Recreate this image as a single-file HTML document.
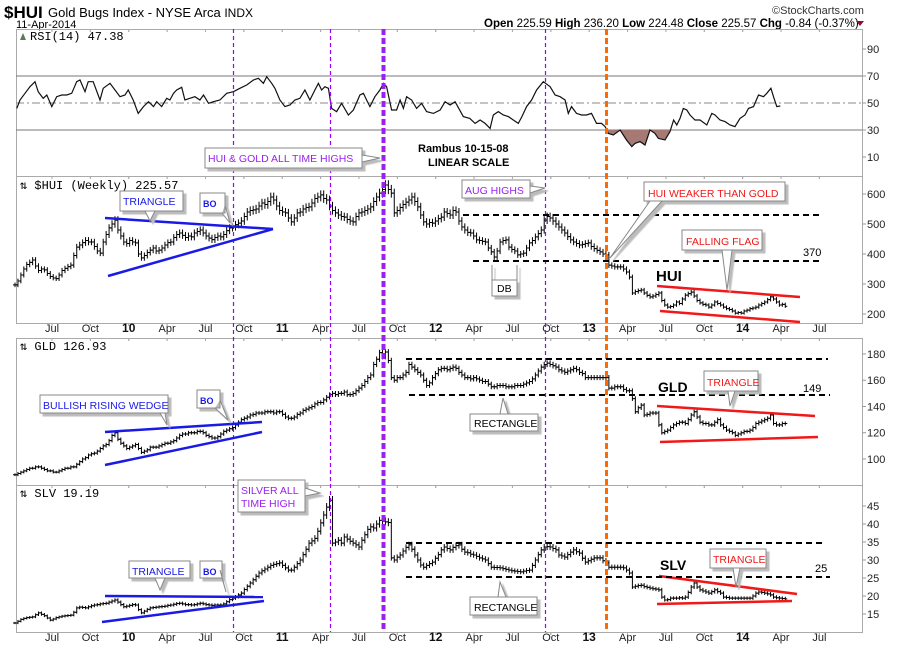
<!DOCTYPE html>
<html><head><meta charset="utf-8">
<style>
html,body{margin:0;padding:0;background:#fff;}
svg{display:block;font-family:"Liberation Sans",sans-serif;}
.ax{font-size:11px;fill:#222;}
.yr{font-size:12px;font-weight:bold;fill:#111;}
.mo{font-size:11px;fill:#222;}
</style></head>
<body>
<svg id="chart" width="900" height="650" viewBox="0 0 900 650">
<rect width="900" height="650" fill="#fff"/>
<text x="4" y="18" font-size="17" font-weight="bold">$HUI</text>
<text x="48" y="17" font-size="13">Gold Bugs Index - NYSE Arca <tspan font-size="12">INDX</tspan></text>
<text x="16" y="28" font-size="11">11-Apr-2014</text>
<text x="772" y="14" font-size="11" fill="#333">©StockCharts.com</text>
<text x="484" y="27" font-size="11.5"><tspan font-weight="bold">Open</tspan> 225.59 <tspan font-weight="bold">High</tspan> 236.20 <tspan font-weight="bold">Low</tspan> 224.48 <tspan font-weight="bold">Close</tspan> 225.57 <tspan font-weight="bold">Chg</tspan> -0.84 (-0.37%)</text>
<polygon points="856,21 864,21 860,26" fill="#8b1030"/>

<g id="frames" fill="none" stroke="#aaa" stroke-width="1">
<rect x="16.5" y="29.5" width="846" height="147"/>
<rect x="16.5" y="176.5" width="846" height="147"/>
<rect x="16.5" y="338.5" width="846" height="147"/>
<rect x="16.5" y="485.5" width="846" height="147"/>
</g>
<g id="axes"></g>
<g id="rsiG"></g>
<g id="bars"></g>
<g id="markers"></g>
<g id="ann"></g>
</svg>
<script>
const weeksHUI=[297,310,330,350,365,372,380,360,345,350,
347,335,325,320,318,330,345,352,358,363,
395,423,430,438,445,440,440,425,410,403,
440,465,487,500,513,480,460,440,435,445,
440,437,400,387,395,405,413,420,410,413,
420,430,438,440,455,465,470,462,455,460,
457,470,475,480,470,460,453,448,455,460,
457,465,478,487,490,498,503,510,525,540,
545,547,550,560,570,565,575,590,580,560,
545,540,537,520,507,520,537,540,550,555,
557,570,585,590,597,585,580,560,545,537,
530,525,523,515,510,507,525,537,540,545,
550,557,575,590,603,615,630,615,603,537,
545,555,565,573,580,590,575,557,530,507,
500,505,503,510,518,523,540,535,530,545,
540,510,490,480,472,470,460,447,445,442,
440,420,407,390,410,440,445,447,423,415,
410,397,400,403,420,437,445,457,468,480,
513,525,520,510,500,490,480,470,458,447,
440,435,430,432,435,437,425,418,412,407,
400,397,363,360,357,357,357,350,340,323,
270,275,278,280,270,262,257,260,265,270,
245,230,223,225,230,240,235,250,263,268,
273,260,245,237,232,230,223,230,240,235,
230,223,218,215,210,203,205,203,210,213,
218,220,223,230,235,240,248,257,250,240,
230,232,226];
const weeksGLD=[88,89,90,91,92,93,93,94,94,93,
92,91,91,90,90,91,92,93,93,94,
94,96,98,100,101,103,104,104.5,106,108,
110,111,114,118,120,115,112,110,108,109,
110,111,108,105,106,107,109,109,109,110,
111,112,112,113,114,116,118,119,119,120,
120,120,121,121,120,118,117,116,116,117,
119,121,122,123,124,126,128,130,131,132,
133.5,134,135,135,135,136,136,136,135,136,
136,134,132,131,131,132,134,135,137,138,
139,140,142,143,143,145,147,149,150,149,
150,150,151,149,149,150,152,154,156,159,
162,164,172,176,181,178,181.5,175,162,160,
162,162,164,166,172,170,168,166,164,160,
156,158,162,165,168,169,169,168,169,170,
169,166,164,162,162,161,162,161,160,159,
159,157,155,155,156,156,156,155,155,155,
156,156,156,157,158,159,161,164,167,170,
172,173,172,171,170,168,167,166,167,168,
169,168,166,165,162,162,162,162,162,162,
162,162,154,154,155,155,155,153,152,152,
146,136,139,141,133.5,134,135,135,135,126,
120,121,122,124,126,127,128,128,127,130,
133.5,136,132,128,127,127,126,126,128,130,
126,124,122,121,120,118,119,120,121,121,
122,124,127,128,129,130,131,133.5,127,126,
126,127,127];
const weeksSLV=[12.5,13,13.5,13.8,14,14.1,14.2,14.8,15.3,14.9,
14.5,13.9,13.3,13.6,14,14.2,14.4,14.5,14.6,14.7,
15.5,16.7,16.9,16.8,16.7,17,17.3,17.5,17.6,17.8,
17.9,18,18.3,18.6,18.9,18.3,17.6,17,17.2,17.4,
17.6,17.5,16.2,15.3,15.8,16.3,16.7,16.8,16.9,17,
17.1,17.2,17.4,17.5,17.7,17.9,18,17.8,17.6,17.6,
17.5,17.6,17.8,18,17.8,17.6,17.5,17.4,17.5,17.5,
17.5,17.8,18.4,19,19.4,19.8,20.3,20.8,21.8,22.7,
23.6,24.5,25.5,26.4,27,27.5,28,28.5,28.8,29,
29.2,28.5,27.8,27.2,27.2,28,29,30,31.5,33,
34.7,35.3,36,38,40.3,42.5,44.7,46.6,34.7,35,
35.5,34.7,36.4,35.8,35.2,34.7,34.2,33.6,35.5,37,
38.5,39.2,38.9,40,41,40.8,40.6,40.4,30.6,30,
30.8,31.4,32.5,33.5,34.2,33,31.4,30,28.6,28,
28.5,29,29.4,30.5,31.5,32.8,33.6,33.2,32.8,33.5,
34,34.2,33,32.2,32,31.6,31.4,31,30.6,30.3,
30,29,28,27.9,27.9,27.8,27.6,27.4,27.2,27,
26.9,26.8,26.7,26.9,27.1,27.2,28.5,30,31.5,32.8,
33.6,33.7,33.6,33.2,32.8,31.4,31.1,30.8,31.5,32.2,
32.8,32.3,31.9,30.5,29.4,29.8,30.2,30.6,30.6,30.6,
29.8,29.2,28,28,28,28,28,27.8,27.2,26.4,
22.5,22.7,22.9,23,22.6,22.4,22.2,22,21.9,21.7,
19.7,18.9,19,19.4,19.4,19.4,19.5,19.4,19.7,21,
22.5,23.6,22.5,21.7,21.4,21.1,20.8,21.2,21.7,21.2,
20.8,19.7,19.6,19.4,19.4,19.4,19.4,19.4,19.4,19.4,
19.4,20,20.8,21.1,21,20.8,20.6,20.3,19.7,19.5,
19.4,19.3,19.2];
const rsiWeek=[0.6,1.7,3.4,5.1,6.8,7.9,9.6,10.8,12.5,14.2,15.9,17.6,19.3,21.0,22.1,23.8,24.9,26.6,28.9,30.0,32.3,34.0,35.7,37.4,38.5,40.2,41.9,43.7,45.4,47.1,48.2,49.9,51.6,52.7,53.9,55.0,56.7,57.8,59.5,61.2,62.9,64.1,65.8,67.5,69.7,72.0,74.3,76.5,78.8,81.1,82.8,84.5,85.6,87.3,88.4,90.1,91.8,93.5,95.2,96.9,98.6,100.3,102.0,103.2,104.3,105.4,106.6,107.7,109.4,111.1,113.4,115.1,117.3,118.5,119.6,120.7,122.4,124.1,125.3,126.4,128.1,129.8,131.0,132.1,133.2,134.9,136.6,138.3,140.0,142.3,144.6,146.3,148.0,149.7,152.5,154.7,156.5,158.2,159.9,161.6,162.7,164.4,166.1,167.8,169.5,171.2,172.4,174.0,175.7,177.4,179.7,182.0,183.7,185.4,187.1,188.2,189.3,191.0,192.7,194.4,196.1,197.8,199.5,200.7,201.8,203.5,205.8,208.0,209.8,210.9,212.6,214.3,216.0,217.7,218.8,221.1,222.8,224.0,225.1,226.2,227.3,228.5,229.6,231.3,233.0,235.3,237.0,238.1,239.8,241.5,243.2,244.9,246.6,248.3,249.5,251.2,252.9,254.6,255.7,257.1,258.0,259.1,260.3];
const rsiValue=[46.0,52.2,57.2,62.1,65.8,58.4,53.5,55.9,47.3,54.7,55.9,55.9,57.2,65.8,67.0,58.4,65.8,65.8,52.2,60.9,64.6,59.6,54.7,55.9,59.6,52.2,42.3,47.3,51.0,47.3,51.0,47.3,53.5,52.2,57.2,59.6,61.6,52.2,53.5,54.7,52.2,55.9,49.8,51.0,52.2,57.2,58.4,60.9,63.3,67.0,68.3,64.6,69.5,64.6,60.9,52.2,47.3,48.5,52.2,53.5,59.6,52.2,59.6,64.6,59.6,62.1,60.9,46.0,43.6,49.8,41.1,44.8,55.9,57.2,52.2,47.3,54.7,59.6,64.6,62.1,44.8,44.8,52.2,46.0,54.7,52.2,46.0,49.8,43.6,42.3,44.8,51.0,48.5,51.0,39.9,38.6,34.9,37.4,34.9,31.2,41.1,43.6,41.1,39.9,37.4,34.9,39.9,47.3,52.2,59.6,65.8,62.1,55.9,54.7,52.2,42.3,47.3,42.3,41.1,41.1,42.3,34.9,34.9,32.5,27.5,26.3,30.0,22.6,17.7,20.1,21.4,18.9,30.0,27.5,23.8,22.6,28.8,37.4,33.7,38.6,46.0,44.8,41.1,37.4,37.4,33.7,42.3,41.1,37.4,36.2,33.7,32.5,38.6,41.1,46.0,47.3,55.9,54.7,57.2,60.9,54.7,47.3,47.8];
const rsiTicks=[90,70,50,30,10];
const huiTicks=[600,500,400,300,200];
const gldTicks=[180,160,140,120,100];
const slvTicks=[45,40,35,30,25,20,15];
const monthLabels=["Jul","Oct","10","Apr","Jul","Oct","11","Apr","Jul","Oct","12","Apr","Jul","Oct","13","Apr","Jul","Oct","14","Apr","Jul"];
const monthIndex=[6,9,12,15,18,21,24,27,30,33,36,39,42,45,48,51,54,57,60,63,66];
const markerWeeks=[74,107,125,180.3,201];

const NS="http://www.w3.org/2000/svg";
function mk(tag,attrs,parent){const e=document.createElementNS(NS,tag);for(const k in attrs)e.setAttribute(k,attrs[k]);parent.appendChild(e);return e;}
const xW=w=>15+w*2.94;
const xM=m=>52+(m-6)*12.79;
const rsiY=v=>103-(v-50)*1.35;
const huiY=v=>314-(v-200)*0.3;
const gldY=v=>459-(v-100)*1.313;
const slvY=v=>614-(v-15)*3.6;

const axes=document.getElementById('axes');
function yTicks(ticks,f,name){ticks.forEach(t=>{const y=f(t);
 const l=mk('line',{x1:862,x2:866,y1:y,y2:y,stroke:'#999'},axes);
 
 
 const tx=mk('text',{x:867,y:y+4,class:'ax'},axes);tx.textContent=t;
 
 });}
yTicks(rsiTicks,rsiY,'rsi-axis');yTicks(huiTicks,huiY,'hui-axis');yTicks(gldTicks,gldY,'gld-axis');yTicks(slvTicks,slvY,'slv-axis');
[332,641].forEach(yy=>{monthLabels.forEach((lab,i)=>{const x=xM(monthIndex[i]);
 const isYr=/^\d/.test(lab);
 const t=mk('text',{x:x,y:yy,'text-anchor':'middle',class:isYr?'yr':'mo'},axes);t.textContent=lab;
 
 
 [29,176,323,338,485,632].forEach(py=>{mk('line',{x1:x,x2:x,y1:py,y2:py+3,stroke:'#aaa'},axes);});
});});

const rg=document.getElementById('rsiG');
[70,30].forEach(v=>{const l=mk('line',{x1:16,x2:862,y1:rsiY(v),y2:rsiY(v),stroke:'#777'},rg);
 
 });
const mid=mk('line',{x1:16,x2:862,y1:rsiY(50),y2:rsiY(50),stroke:'#888','stroke-dasharray':'8,3,2,3'},rg);


const pts=rsiWeek.map((w,i)=>xW(w).toFixed(1)+','+rsiY(rsiValue[i]).toFixed(1));
mk('clipPath',{id:'below30'},rg);
mk('rect',{x:16,y:rsiY(30),width:846,height:60},document.getElementById('below30'));
const fill=mk('polygon',{points:xW(rsiWeek[0])+','+rsiY(30)+' '+pts.join(' ')+' '+xW(rsiWeek[rsiWeek.length-1])+','+rsiY(30),fill:'#a57a74','clip-path':'url(#below30)'},rg);


const rl=mk('polyline',{points:pts.join(' '),fill:'none',stroke:'#111','stroke-width':1.2},rg);



const bg=document.getElementById('bars');
function drawBars(arr,f,name,spread){
 arr.forEach((c,i)=>{const o=i?arr[i-1]:c;const hi=Math.max(o,c)*(1+spread),lo=Math.min(o,c)*(1-spread);const x=xW(i);
 const p=mk('path',{d:`M${x},${f(hi)}V${f(lo)}M${x-2},${f(o)}H${x}M${x},${f(c)}H${x+2}`,stroke:'#000','stroke-width':1,fill:'none'},bg);
 
 });}
drawBars(weeksHUI,huiY,'hui',0.025);
drawBars(weeksGLD,gldY,'gld',0.012);
drawBars(weeksSLV,slvY,'slv',0.025);

const mg=document.getElementById('markers');
markerWeeks.forEach((w,i)=>{const x=Math.round(xW(w))+0.5;let a;
 if(i===4)a={stroke:'#ff6a00','stroke-width':3,'stroke-dasharray':'6,3'};
 else if(i===2)a={stroke:'#9b1ff0','stroke-width':4,'stroke-dasharray':'6,3'};
 else a={stroke:'#9900ff','stroke-width':1.2,'stroke-dasharray':'4,3'};
 const l=mk('line',Object.assign({x1:x,x2:x,y1:29,y2:632},a),mg);
 
 });
</script>
<svg width="900" height="650" style="position:absolute;left:0;top:0" font-family="Liberation Sans,sans-serif">
<defs><filter id="sh"><feDropShadow dx="3" dy="3" stdDeviation="0.5" flood-color="#bbb"/></filter></defs>
<g font-size="12">
<path d="M20,40 l3,-7 3,7z" fill="#5a7a5a"/>
<text x="30" y="40" font-size="12" font-family="Liberation Mono,monospace">RSI(14) 47.38</text>
<text x="20" y="189" font-size="12" font-family="Liberation Mono,monospace">⇅ $HUI (Weekly) 225.57</text>
<text x="20" y="350" font-size="12" font-family="Liberation Mono,monospace">⇅ GLD 126.93</text>
<text x="20" y="497" font-size="12" font-family="Liberation Mono,monospace">⇅ SLV 19.19</text>
</g>
<g fill="none" stroke-width="2.5">
<line x1="105" y1="218" x2="273" y2="229" stroke="#1a1ae6"/>
<line x1="108" y1="276" x2="273" y2="229" stroke="#1a1ae6"/>
<line x1="105" y1="432" x2="262" y2="422" stroke="#1a1ae6"/>
<line x1="105" y1="465" x2="262" y2="432" stroke="#1a1ae6"/>
<line x1="105" y1="596" x2="263" y2="597" stroke="#1a1ae6"/>
<line x1="102" y1="622" x2="264" y2="601" stroke="#1a1ae6"/>
<line x1="657" y1="286" x2="800" y2="297" stroke="#f01818"/>
<line x1="660" y1="311" x2="800" y2="322" stroke="#f01818"/>
<line x1="657" y1="406" x2="815" y2="416" stroke="#f01818"/>
<line x1="660" y1="442" x2="818" y2="437" stroke="#f01818"/>
<line x1="659" y1="576" x2="797" y2="594" stroke="#f01818"/>
<line x1="657" y1="604" x2="792" y2="601" stroke="#f01818"/>
</g>
<g stroke="#000" stroke-width="2" stroke-dasharray="6,4">
<line x1="463" y1="215" x2="822" y2="215"/>
<line x1="473" y1="261" x2="822" y2="261"/>
<line x1="406" y1="359" x2="828" y2="359"/>
<line x1="409" y1="395" x2="830" y2="395"/>
<line x1="406" y1="543" x2="825" y2="543"/>
<line x1="406" y1="577" x2="830" y2="577"/>
</g>
<g fill="#fff" stroke="#888" filter="url(#sh)">
<path d="M205,148H362V168H205Z M362,155L380,158L362,162"/>
<path d="M120,191H183V211H120Z M145,211L150,221L155,211"/>
<path d="M200,193H225V213H200Z M222,213L230,223L225,205"/>
<path d="M462,180H530V198H462Z M530,186L545,188L530,193"/>
<path d="M644,182H785V201H644Z M650,201L610,258L662,201"/>
<path d="M682,230H762V250H682Z M722,250L727,290L732,250"/>
<path d="M492,280H517V296H492Z M492,280L492,265M517,280L517,265"/>
<path d="M40,395H168V413H40Z M160,413L167,425L165,413"/>
<path d="M197,390H220V408H197Z M215,408L228,420L220,400"/>
<path d="M470,414H538V431H470Z M500,414L503,398L508,414"/>
<path d="M704,371H758V391H704Z M728,391L730,406L735,391"/>
<path d="M238,480H305V512H238Z M305,488L320,493L305,496"/>
<path d="M129,561H190V578H129Z M155,578L160,590L165,578"/>
<path d="M200,561H222V578H200Z M220,570L226,592L222,578"/>
<path d="M470,597H537V615H470Z M498,597L500,582L506,597"/>
<path d="M710,549H766V568H710Z M733,568L736,587L740,568"/>
</g>
<g font-size="10.5" font-weight="normal">
<text x="208" y="162" fill="#9b1ff0">HUI &amp; GOLD ALL TIME HIGHS</text>
<text x="123" y="205" fill="#1a1ae6">TRIANGLE</text>
<text x="203" y="207" fill="#1a1ae6" font-size="9" font-weight="bold">BO</text>
<text x="465" y="194" fill="#9b1ff0">AUG HIGHS</text>
<text x="648" y="197" fill="#f01818">HUI WEAKER THAN GOLD</text>
<text x="686" y="245" fill="#f01818">FALLING FLAG</text>
<text x="497" y="292" fill="#000">DB</text>
<text x="43" y="409" fill="#1a1ae6">BULLISH RISING WEDGE</text>
<text x="200" y="404" fill="#1a1ae6" font-size="9" font-weight="bold">BO</text>
<text x="474" y="427" fill="#000">RECTANGLE</text>
<text x="707" y="386" fill="#f01818">TRIANGLE</text>
<text x="241" y="494" fill="#9b1ff0">SILVER ALL</text>
<text x="241" y="507" fill="#9b1ff0">TIME HIGH</text>
<text x="132" y="575" fill="#1a1ae6">TRIANGLE</text>
<text x="203" y="575" fill="#1a1ae6" font-size="9" font-weight="bold">BO</text>
<text x="474" y="611" fill="#000">RECTANGLE</text>
<text x="713" y="563" fill="#f01818">TRIANGLE</text>
</g>
<g font-weight="bold">
<text x="418" y="152" font-size="11">Rambus  10-15-08</text>
<text x="428" y="166" font-size="11">LINEAR SCALE</text>
<text x="656" y="281" font-size="15">HUI</text>
<text x="658" y="392" font-size="14">GLD</text>
<text x="660" y="570" font-size="14">SLV</text>
</g>
<text x="803" y="256" font-size="11">370</text>
<text x="803" y="392" font-size="11">149</text>
<text x="815" y="572" font-size="11">25</text>
</svg>
</body></html>
